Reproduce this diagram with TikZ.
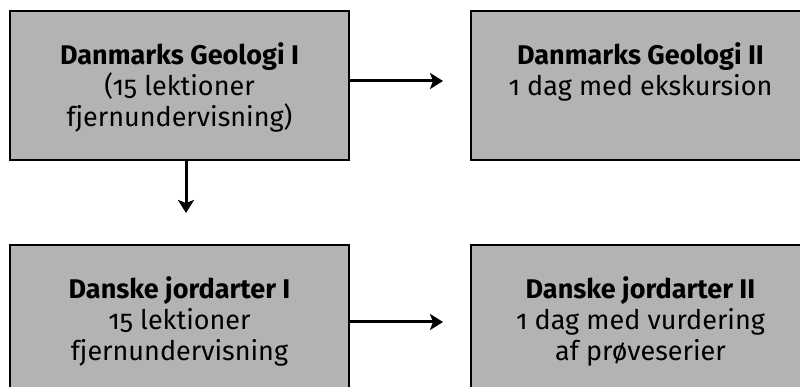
\documentclass[tikz,border=0pt]{standalone}
\usepackage{fontspec}
\setmainfont{Fira Sans}[Numbers=OldStyle]
\usetikzlibrary{arrows.meta,positioning}
\definecolor{kassegraa}{RGB}{179,179,179}
\tikzset{
  kasse/.style={draw, fill=kassegraa, line width=2pt, minimum width=339pt, minimum height=149pt, inner sep=0pt},
  tekst/.style={align=center, inner sep=0pt, font=\fontsize{27}{31}\selectfont},
  pil/.style={line width=3pt, -{Stealth[length=13pt,width=16pt,inset=3pt]}}
}

\begin{document}
\begin{tikzpicture}[x=1pt,y=1pt]
    \useasboundingbox (0,0) rectangle (800,387);
    \clip (0,0) rectangle (800,387);

    % Kasserne
    \node[kasse] (dg1) at (179.5,301.5) {};
    \node[kasse] (dg2) at (640.5,301.5) {};
    \node[kasse] (dj1) at (179.5,67.5) {};
    \node[kasse] (dj2) at (640.5,67.5) {};

    % Teksterne i kasserne
    \node[tekst, below=32pt of dg1.north] (dg1tekst) {\textbf{Danmarks Geologi I}\\(15 lektioner\\fjernundervisning)};
    \node[tekst, below=32pt of dg2.north] (dg2tekst) {\textbf{Danmarks Geologi II}\\1 dag med ekskursion};
    \node[tekst, below=32pt of dj1.north] (dj1tekst) {\textbf{Danske jordarter I}\\15 lektioner\\fjernundervisning};
    \node[tekst, below=32pt of dj2.north] (dj2tekst) {\textbf{Danske jordarter II}\\1 dag med vurdering\\af prøveserier};

    % Pilene
    \coordinate (p1) at (443,306);
    \coordinate (p2) at (186,174);
    \coordinate (p3) at (443,65);
    \draw[pil] (dg1.east |- p1) -- (p1);
    \draw[pil] (dg1.south -| p2) -- (p2);
    \draw[pil] (dj1.east |- p3) -- (p3);
\end{tikzpicture}
\end{document}
